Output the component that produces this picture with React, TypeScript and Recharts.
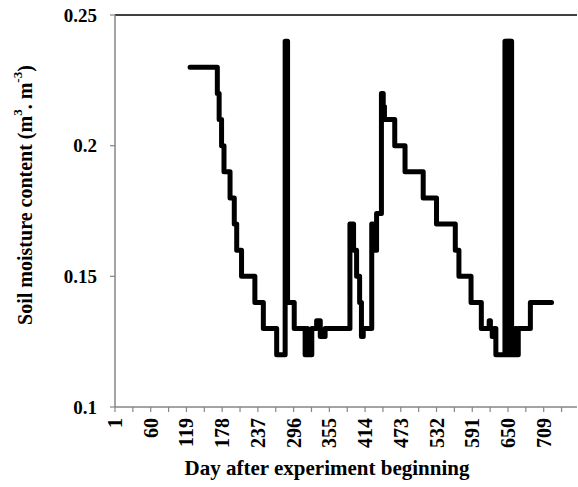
import React from 'react';
import { LineChart, Line, XAxis, YAxis, ReferenceLine, Label } from 'recharts';

// change points of the daily soil moisture record (step after)
const days = [
  125, 170, 173, 177, 181, 191, 198, 202, 210, 232, 246, 268, 282, 286, 297, 315, 318, 319, 326, 334,
  340, 348, 389, 395, 400, 405, 408, 411, 425, 427, 429, 431, 433, 441, 444, 445, 446, 463,
  480, 510, 532, 563, 569, 589, 606, 619, 621, 624, 627, 630, 645, 646, 647, 648, 649, 650, 651, 652,
  653, 654, 655, 656, 658, 660, 662, 664, 667, 687, 722,
];
const moisture = [
  0.23, 0.22, 0.21, 0.2, 0.19, 0.18, 0.17, 0.16, 0.15, 0.14, 0.13, 0.12, 0.24, 0.14, 0.13, 0.12, 0.13, 0.12, 0.13, 0.133,
  0.127, 0.13, 0.17, 0.16, 0.15, 0.14, 0.127, 0.13, 0.17, 0.16, 0.17, 0.16, 0.174, 0.22, 0.21, 0.215, 0.21, 0.2,
  0.19, 0.18, 0.17, 0.16, 0.15, 0.14, 0.13, 0.133, 0.13, 0.127, 0.13, 0.12, 0.24, 0.12, 0.24, 0.12, 0.24, 0.12, 0.24, 0.12,
  0.24, 0.12, 0.24, 0.12, 0.13, 0.12, 0.13, 0.12, 0.13, 0.14, 0.14,
];

const majorTicks = [1, 60, 119, 178, 237, 296, 355, 414, 473, 532, 591, 650, 709];
const minorTicks = [30.5, 89.5, 148.5, 207.5, 266.5, 325.5, 384.5, 443.5, 502.5, 561.5, 620.5, 679.5, 738.5];
const yTicks = [0.1, 0.15, 0.2, 0.25];

const data = days.map((day, i) => ({ day, vwc: moisture[i] }));
const allTicks = [...majorTicks, ...minorTicks].sort((a, b) => a - b);

const FONT = "'Liberation Serif', 'Times New Roman', serif";
const AXIS = '#868686';

const XTick = ({ x, y, payload }: any) => {
  if (!majorTicks.includes(payload.value)) return <g />;
  return (
    <text
      x={x}
      y={y}
      transform={`rotate(-90 ${x} ${y})`}
      textAnchor="end"
      dominantBaseline="central"
      fontFamily={FONT}
      fontWeight="bold"
      fontSize={20}
      fill="#000"
    >
      {payload.value}
    </text>
  );
};

const renderYTitle = () => (
  <text
    x={25}
    y={195}
    transform="rotate(-90 25 195)"
    textAnchor="middle"
    dominantBaseline="central"
    fontFamily={FONT}
    fontWeight="bold"
    fontSize={20}
    fill="#000"
  >
    Soil moisture content (m<tspan dy={-8} fontSize={13}>3</tspan>
    <tspan dy={8}>. m</tspan>
    <tspan dy={-8} fontSize={13}>-3</tspan>
    <tspan dy={8}>)</tspan>
  </text>
);

const renderXTitle = () => (
  <text x={327} y={475} textAnchor="middle" fontFamily={FONT} fontWeight="bold" fontSize={21} fill="#000">
    Day after experiment beginning
  </text>
);

export default function App() {
  return (
    <div style={{ position: 'absolute', left: 0, top: 0, width: 578, height: 487, background: '#fff' }}>
      <LineChart width={578} height={487} data={data} margin={{ top: 15, right: 1, bottom: 0, left: 0 }}>
        <XAxis
          dataKey="day"
          type="number"
          domain={[1, 764]}
          ticks={allTicks}
          interval={0}
          height={80}
          tickSize={5}
          tickMargin={6}
          tick={<XTick />}
          axisLine={{ stroke: AXIS, strokeWidth: 1.5 }}
          tickLine={{ stroke: AXIS, strokeWidth: 1.2 }}
          allowDataOverflow
        >
          <Label content={renderXTitle} />
        </XAxis>
        <YAxis
          type="number"
          domain={[0.1, 0.25]}
          ticks={yTicks}
          interval={0}
          width={115}
          tickSize={5}
          tickMargin={13}
          tick={{ fontFamily: FONT, fontWeight: 'bold', fontSize: 19, fill: '#000' }}
          axisLine={{ stroke: AXIS, strokeWidth: 1.5 }}
          tickLine={{ stroke: AXIS, strokeWidth: 1.2 }}
          allowDataOverflow
        >
          <Label content={renderYTitle} />
        </YAxis>
        <ReferenceLine y={0.25} stroke="#000" strokeWidth={1.5} />
        <Line
          type="stepAfter"
          dataKey="vwc"
          stroke="#000"
          strokeWidth={5}
          strokeLinejoin="round"
          strokeLinecap="round"
          dot={false}
          activeDot={false}
          isAnimationActive={false}
        />
      </LineChart>
    </div>
  );
}
